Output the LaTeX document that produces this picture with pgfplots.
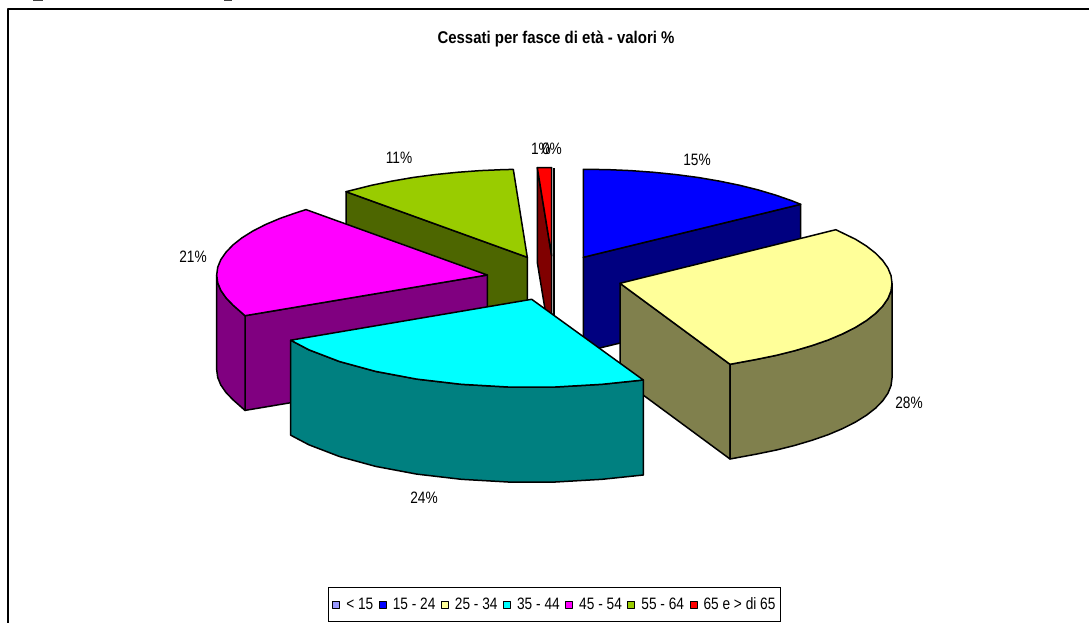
\documentclass[border=0pt]{standalone}
\usepackage{fontspec}
\setmainfont{Liberation Sans}[FakeStretch=0.83]
\newfontfamily\titlefont{Liberation Sans Bold}[FakeStretch=0.88]
\usepackage{pgfplots}
\pgfplotsset{compat=1.18}
\definecolor{cBlue}{HTML}{0000FF}\definecolor{cBlueS}{HTML}{000080}
\definecolor{cYel}{HTML}{FFFF99}\definecolor{cYelS}{HTML}{80804D}
\definecolor{cCya}{HTML}{00FFFF}\definecolor{cCyaS}{HTML}{008080}
\definecolor{cMag}{HTML}{FF00FF}\definecolor{cMagS}{HTML}{800080}
\definecolor{cGre}{HTML}{99CC00}\definecolor{cGreS}{HTML}{4D6600}
\definecolor{cRed}{HTML}{FF0000}\definecolor{cRedS}{HTML}{800000}
\definecolor{cLil}{HTML}{9999FF}
\begin{document}
\begin{tikzpicture}[x=1pt,y=1pt]
\useasboundingbox (0,0) rectangle (1089pt,623pt);
\clip (0,0) rectangle (1089pt,623pt);
\begin{axis}[
  scale only axis, width=1089pt, height=623pt,
  xmin=0, xmax=1089, ymin=0, ymax=623, y dir=reverse,
  axis lines=none, no markers, clip=false,
  font=\fontsize{16.5}{18}\selectfont,
  every axis plot/.append style={forget plot, draw=black, line width=1.5pt, line join=round},
  legend columns=-1,
  legend image code/.code={\draw[#1,line width=1pt] (0pt,-3.5pt) rectangle (7pt,3.5pt);},
  legend style={at={(axis cs:328.3,587.3)}, anchor=north west, draw=black, line width=1pt,
    inner xsep=3.5pt, inner ysep=10pt, font=\fontsize{16.5}{18}\selectfont,
    nodes={inner xsep=2pt,inner ysep=0pt},
    /tikz/every odd column/.append style={column sep=4pt},
    /tikz/every even column/.append style={column sep=3.5pt}},
]
% frame
\addplot[draw=black,line width=2pt] coordinates {(7.5,623) (7.5,9.5) (1089,9.5)};
% heading line cut off above the frame: only two descenders remain
\addplot[draw=black!75,line width=1.5pt] coordinates {(33,0.5) (43,0.5)};
\addplot[draw=black!75,line width=1.5pt] coordinates {(224,0.5) (232,0.5)};
% 0% slice
\addplot[draw=black,fill=cLil,line width=1.8pt] coordinates {(554,168) (554,350)};
% 65 e > di 65
\addplot[fill=cRedS] coordinates {(537.3,167.7) (551.7,256) (551.7,350) (537.3,262.4)} --cycle;
\addplot[fill=cRed] coordinates {(537.3,167.7) (551.7,167.7) (551.7,256)} --cycle;
% 15 - 24
\addplot[fill=cBlueS] coordinates {(583.3,257.3) (800.7,204.3) (800.7,299) (583.3,352)} --cycle;
\addplot[fill=cBlue] coordinates {(583.3,257.3) (583.3,169.3) (607,169.6) (630.5,170.6) (653.7,172.3) (676.3,174.6) (698.3,177.5) (719.3,181.1) (739.3,185.2) (758.1,189.9) (775.6,195.1) (791.7,200.7) (800.7,204.3)} --cycle;
% 55 - 64
\addplot[fill=cGreS] coordinates {(346,191.7) (527.3,257.3) (527.3,352) (346,286.4)} --cycle;
\addplot[fill=cGre] coordinates {(527.3,257.3) (346,191.7) (372,185.2) (392,181.1) (412.9,177.5) (434.7,174.6) (457.3,172.3) (480.3,170.6) (503.7,169.6) (513.3,169.4)} --cycle;
% 45 - 54
\addplot[fill=cMagS] coordinates {(245,315.7) (487.3,275) (487.3,369.7) (245,410.4)} --cycle;
\addplot[fill=cMagS] coordinates {(216.7,275) (217.7,282.7) (220.8,290.3) (226,297.8) (233,305.1) (245,315.7) (245,410.4) (233,399.8) (226,392.5) (220.8,385) (217.7,377.4) (216.7,369.7)} --cycle;
\addplot[fill=cMag] coordinates {(487.3,275) (245,315.7) (233,305.1) (226,297.8) (220.8,290.3) (217.7,282.7) (216.7,275) (217.7,267.3) (220.8,259.7) (226,252.2) (233,244.9) (242,237.8) (252.9,231) (265.6,224.5) (280,218.4) (296,212.8) (306,209.6)} --cycle;
% 25 - 34
\addplot[fill=cYelS] coordinates {(620,283.3) (730,364.3) (730,459) (620,378)} --cycle;
\addplot[fill=cYelS] coordinates {(730,364.3) (756,359.5) (776,355.4) (794.8,350.7) (812.3,345.5) (828.4,339.9) (842.8,333.8) (855.6,327.3) (866.5,320.5) (875.6,313.4) (882.7,306.1) (887.9,298.6) (891,291) (892,283.3) (892,378) (891,385.7) (887.9,393.3) (882.7,400.8) (875.6,408.1) (866.5,415.2) (855.6,422) (842.8,428.5) (828.4,434.6) (812.3,440.2) (794.8,445.4) (776,450.1) (756,454.2) (730,459)} --cycle;
\addplot[fill=cYel] coordinates {(620,283.3) (835.8,229.7) (855.6,239.3) (866.5,246.1) (875.6,253.2) (882.7,260.5) (887.9,268) (891,275.6) (892,283.3) (891,291) (887.9,298.6) (882.7,306.1) (875.6,313.4) (866.5,320.5) (855.6,327.3) (842.8,333.8) (828.4,339.9) (812.3,345.5) (794.8,350.7) (776,355.4) (756,359.5) (730,364.3)} --cycle;
% 35 - 44
\addplot[fill=cCyaS] coordinates {(643.3,380) (602.1,384.3) (555.4,387) (508,387) (461.3,384.3) (416.7,379.1) (375.7,371.4) (339.4,361.5) (308.9,349.8) (290.7,340.2) (290.7,435.2) (308.9,444.8) (339.4,456.5) (375.7,466.4) (416.7,474.1) (461.3,479.3) (508,482) (555.4,482) (602.1,479.3) (643.3,475)} --cycle;
\addplot[fill=cCya] coordinates {(531.7,299.3) (643.3,380) (602.1,384.3) (555.4,387) (508,387) (461.3,384.3) (416.7,379.1) (375.7,371.4) (339.4,361.5) (308.9,349.8) (290.7,340.2)} --cycle;
% legend
\addlegendimage{fill=cLil,draw=black}\addlegendentry{< 15}
\addlegendimage{fill=cBlue,draw=black}\addlegendentry{15 - 24}
\addlegendimage{fill=cYel,draw=black}\addlegendentry{25 - 34}
\addlegendimage{fill=cCya,draw=black}\addlegendentry{35 - 44}
\addlegendimage{fill=cMag,draw=black}\addlegendentry{45 - 54}
\addlegendimage{fill=cGre,draw=black}\addlegendentry{55 - 64}
\addlegendimage{fill=cRed,draw=black}\addlegendentry{65 e > di 65}
% text
\node[font=\titlefont\fontsize{17}{18}\selectfont] at (axis cs:556,39.5) {Cessati per fasce di età - valori \%};
\node at (axis cs:697,159.5) {15\%};
\node at (axis cs:909,402.5) {28\%};
\node at (axis cs:424,497.5) {24\%};
\node at (axis cs:193,256.5) {21\%};
\node at (axis cs:399,157.5) {11\%};
\node at (axis cs:541,148.5) {1\%};
\node at (axis cs:552,148.5) {0\%};
\end{axis}
\end{tikzpicture}
\end{document}
